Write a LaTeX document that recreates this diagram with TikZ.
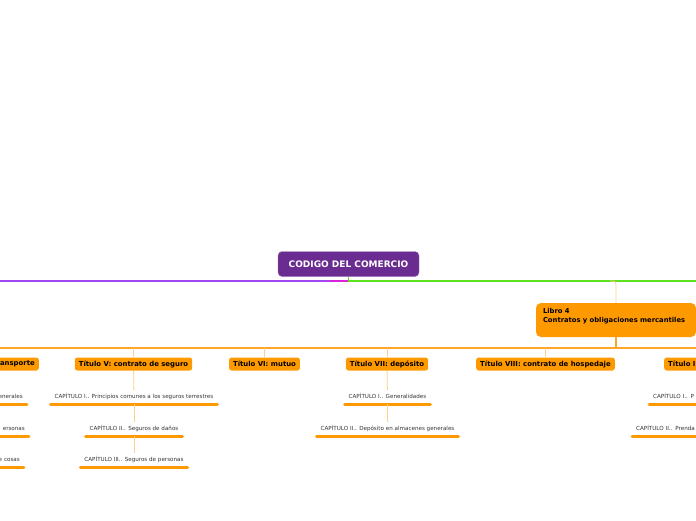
\documentclass[tikz,border=0pt]{standalone}
\usepackage{fontspec}
\setmainfont{DejaVu Sans}
\usetikzlibrary{positioning,calc}
\definecolor{rootpurple}{HTML}{6A2C90}
\definecolor{linkviolet}{HTML}{A348F0}
\definecolor{linkmagenta}{HTML}{DD22DD}
\definecolor{linkgreen}{HTML}{5FE01E}
\definecolor{mmorange}{HTML}{FF9900}
\definecolor{lineorange}{HTML}{FFA424}
\definecolor{softorange}{HTML}{FFD08A}
\definecolor{chaptext}{HTML}{333333}
\tikzset{
  rootbox/.style={draw=rootpurple!60!white,fill=rootpurple,rounded corners=4pt,text=white,font=\fontsize{9}{10}\selectfont\bfseries,minimum width=141pt,minimum height=25pt,inner sep=0pt},
  bookbox/.style={fill=mmorange,rounded corners=5pt,font=\fontsize{6.8}{9}\selectfont\bfseries,align=left,text width=146pt,minimum height=34pt,inner xsep=7pt},
  titlebox/.style={fill=mmorange,rounded corners=2.5pt,font=\fontsize{6.9}{8}\selectfont\bfseries,minimum height=13pt,inner xsep=4pt,inner ysep=0pt},
  chapter/.style={font=\fontsize{5.6}{6.5}\selectfont,text=chaptext,inner xsep=4pt,inner ysep=4.5pt,text height=4pt,text depth=1pt},
  uline/.style={draw=mmorange,line width=2.6pt,line cap=round},
  sublink/.style={draw=softorange,line width=0.8pt},
  mainlink/.style={draw=lineorange,line width=1.8pt}
}
\begin{document}
\begin{tikzpicture}[x=1pt,y=-1pt]
\clip (0,0) rectangle (696,520);

% root and first level
\node[rootbox] (root) at (348.5,264) {CODIGO DEL COMERCIO};
\coordinate (westend) at (-5,281);
\coordinate (eastend) at (701,281);
\coordinate (rootfork) at (348.5,281);
\coordinate (magstart) at (330,281);
\draw[linkviolet,line width=1.2pt] (westend) -- (magstart);
\draw[linkmagenta,line width=1.2pt] (magstart) -- (rootfork);
\draw[linkgreen,line width=1.2pt] (root.south) -- (rootfork) -- (eastend);

% libro 4
\node[bookbox] (lib) at (616,320) {Libro 4\\Contratos y obligaciones mercantiles\\\mbox{}};
\coordinate (libfork) at (610,281);
\draw[sublink,rounded corners=3pt] (libfork) -| (lib.north);

\coordinate (tline) at (616,348);
\coordinate (twest) at (-5,348);
\coordinate (teast) at (701,348);
\draw[mainlink] (lib.south) -- (tline);
\draw[mainlink] (twest) -- (teast);

% titulos
\node[titlebox,anchor=east,text width=50pt,align=right] (t4) at (39,364) {ansporte};
\node[titlebox] (t5) at (133.5,364) {Título V: contrato de seguro};
\node[titlebox] (t6) at (264.5,364) {Título VI: mutuo};
\node[titlebox] (t7) at (387,364) {Título VII: depósito};
\node[titlebox] (t8) at (545.5,364) {Título VIII: contrato de hospedaje};
\node[titlebox,anchor=west,text width=50pt,align=left] (t9) at (664,364) {Título I};

\draw[sublink] (t5.north |- tline) -- (t5.north);
\draw[sublink] (t6.north |- tline) -- (t6.north);
\draw[sublink] (t7.north |- tline) -- (t7.north);
\draw[sublink] (t8.north |- tline) -- (t8.north);

% capitulos
\node[chapter,anchor=east,text width=40pt,align=right] (c41) at (27,397) {enerales};
\node[chapter,anchor=east,text width=40pt,align=right] (c42) at (29,429) {ersonas};
\node[chapter,anchor=east,text width=40pt,align=right] (c43) at (24,460) {e cosas};

\node[chapter] (c51) at (134,397) {CAPÍTULO I.. Principios comunes a los seguros terrestres};
\node[chapter] (c52) at (134,429) {CAPÍTULO II.. Seguros de daños};
\node[chapter] (c53) at (134,460) {CAPÍTULO III.. Seguros de personas};

\node[chapter] (c71) at (387.5,397) {CAPÍTULO I.. Generalidades};
\node[chapter] (c72) at (387.5,429) {CAPÍTULO II.. Depósito en almacenes generales};

\node[chapter,anchor=west,text width=80pt,align=left] (c91) at (649,397) {CAPÍTULO I.. P};
\node[chapter,anchor=west,text width=80pt,align=left] (c92) at (632,429) {CAPÍTULO II.. Prenda};

\foreach \n in {c41,c42,c43,c51,c52,c53,c71,c72,c91,c92}
  \draw[uline] (\n.south west) -- (\n.south east);

\draw[sublink] (t5) -- (c51);
\draw[sublink] (c51) -- (c52);
\draw[sublink] (c52) -- (c53);
\draw[sublink] (t7) -- (c71);
\draw[sublink] (c71) -- (c72);
\end{tikzpicture}
\end{document}
